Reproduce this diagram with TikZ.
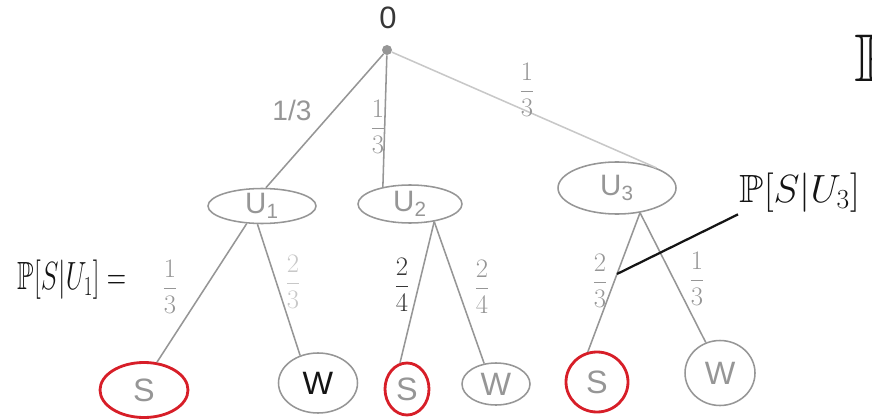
\documentclass[tikz,border=0pt]{standalone}
\usepackage{fix-cm}
\usepackage{amsmath}
\usepackage{amssymb}
\usepackage{fontspec}
\setmainfont{Liberation Sans}
\usetikzlibrary{shapes.geometric}

\definecolor{pencil}{RGB}{150,150,150}
\definecolor{faint}{RGB}{200,200,200}
\definecolor{redpen}{RGB}{215,30,40}
\definecolor{ink}{RGB}{20,20,20}

\begin{document}
\begin{tikzpicture}[x=0.025cm, y=-0.025cm,
	state/.style={ellipse, draw=pencil, line width=1.1pt, text=pencil, inner sep=0pt, font=\fontsize{21}{21}\selectfont},
	leaf/.style={state, font=\fontsize{23}{23}\selectfont},
	branch/.style={draw=pencil, line width=1.1pt},
	prob/.style={text=pencil, font=\fontsize{19}{19}\selectfont, inner sep=0pt},
	note/.style={text=ink, font=\fontsize{28}{28}\selectfont, inner sep=1pt},
	pointer/.style={draw=ink, line width=1.6pt}]

		% === unit / frame ===
		\def\px{0.025cm}
		\useasboundingbox (0,0) rectangle (872,419);

		% === Root ===
		\node[circle, fill=pencil, inner sep=0pt, minimum size=10*\px] (root) at (387,50) {};
		\node[text=ink!85, font=\fontsize{22}{22}\selectfont] (rootlbl) at (388,18) {0};

		% === Urns ===
		\node[state, minimum width=108*\px, minimum height=32*\px] (U1) at (262,206) {U\textsubscript{1}};
		\node[state, minimum width=104*\px, minimum height=38*\px] (U2) at (410,204) {U\textsubscript{2}};
		\node[state, minimum width=118*\px, minimum height=52*\px] (U3) at (617,188) {U\textsubscript{3}};

		% === Leaves (name/x/y/width/height/ring/ring width/text colour/text) ===
		\foreach \n/\x/\y/\w/\h/\c/\lw/\tc/\t in {
				S1/144/390/88/55/redpen/2/pencil/S,
				W1/318/383/79/60/pencil/1.1/ink/W,
				S2/407/389/44/52/redpen/2/pencil/S,
				W2/496/384/68/42/pencil/1.1/pencil/W,
				S3/597/382/62/60/redpen/2/pencil/S,
				W3/720/373/70/65/pencil/1.1/pencil/W} {
			\node[leaf, draw=\c, line width=\lw pt, text=\tc, minimum width=\w*\px, minimum height=\h*\px] (\n) at (\x,\y) {\t};
		}

		% === Branches ===
		\draw[branch] (root) -- (U1.78);
		\draw[branch] (root) -- (U2.148);
		\draw[branch, draw=faint] (root) -- (U3.27);
		\foreach \a/\b in {U1.229/S1.65, U1.256/W1.123, U2.-36/S2.105, U2.-36/W2.120, U3.-47/W3.115}
			\draw[branch] (\a) -- (\b);
		\draw[branch] (U3.-47) -- coordinate[pos=0.44] (pin) (S3.107);

		% === Probabilities ===
		\node[prob, font=\fontsize{20}{20}\selectfont] (pU1) at (292,110) {1/3};
		\node[prob] (pU2) at (378,127) {$\dfrac{1}{3}$};
		\node[prob] (pU3) at (527,90) {$\dfrac{1}{3}$};
		\node[prob] (pS1) at (170,287) {$\dfrac{1}{3}$};
		\node[prob, text=faint] (pW1) at (293,282) {$\dfrac{2}{3}$};
		\node[prob, text=ink!85] (pS2) at (402,285) {$\dfrac{2}{4}$};
		\node[prob] (pW2) at (482,287) {$\dfrac{2}{4}$};
		\node[prob] (pS3) at (600,281) {$\dfrac{2}{3}$};
		\node[prob] (pW3) at (697,279) {$\dfrac{1}{3}$};

		% === Notes ===
		\node[note] (noteU1) at (72,280) {\scalebox{0.68}[1]{$\mathbb{P}[S|U_1] =$}};
		\node[note, anchor=west] (noteU3) at (738,193) {$\mathbb{P}[S|U_3]$};
		\node[note, anchor=west, font=\fontsize{48}{48}\selectfont] (noteTop) at (853,58) {$\mathbb{P}$};
		\draw[pointer] (pin) -- (noteU3.south west);
	\end{tikzpicture}
\end{document}
